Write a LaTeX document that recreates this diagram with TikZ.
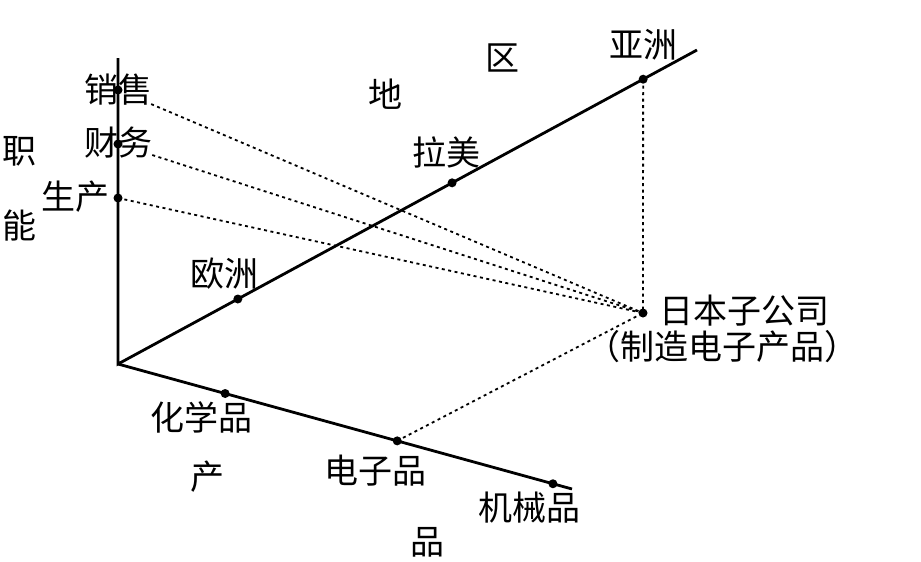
\documentclass[tikz,border=0pt]{standalone}
\usepackage{fontspec}
\newfontfamily\cjk{Noto Sans CJK SC}
\usetikzlibrary{calc}
\begin{document}
\begin{tikzpicture}[x=1pt,y=-1pt,
  axisline/.style={line width=2.8pt},
  dotline/.style={line width=1.8pt,dash pattern=on 3pt off 3.5pt},
  pt/.style={circle,fill=black,inner sep=0pt,minimum size=9pt},
  lbl/.style={inner sep=0pt,font=\cjk\fontsize{34}{38}\selectfont}]
\useasboundingbox (0,0) rectangle (921,562);
% axes
\coordinate (O) at (118,364);
\coordinate (vtop) at (118,58);
\coordinate (dend) at (697,50);
\coordinate (lend) at (572,489);
\draw[axisline] (vtop) -- (O) -- (dend);
\draw[axisline] (O) -- (lend);
% dots
\node[pt] (xs) at (118,90) {};
\node[pt] (cw) at (118,144) {};
\node[pt] (sc) at (118,198) {};
\node[pt] (oz) at ($(O)!0.207!(dend)$) {};
\node[pt] (lm) at ($(O)!0.577!(dend)$) {};
\node[pt] (yz) at ($(O)!0.907!(dend)$) {};
\node[pt] (hx) at ($(O)!0.236!(lend)$) {};
\node[pt] (dz) at ($(O)!0.615!(lend)$) {};
\node[pt] (jx) at ($(O)!0.958!(lend)$) {};
\node[pt] (jp) at (643,313) {};
% dotted connectors
\draw[dotline,shorten <=36pt] (xs.center) -- (jp.center);
\draw[dotline,shorten <=36pt] (cw.center) -- (jp.center);
\draw[dotline] (sc.center) -- (jp.center);
\draw[dotline] (yz.center) -- (jp.center);
\draw[dotline] (dz.center) -- (jp.center);
% labels
\node[lbl] (tzhi) at (19,151) {职};
\node[lbl] (tneng) at (19,226) {能};
\node[lbl] (txs) at (118,90) {销售};
\node[lbl] (tcw) at (118,143) {财务};
\node[lbl] (tsc) at (75,197) {生产};
\node[lbl] (toz) at (224,274) {欧洲};
\node[lbl] (tlm) at (446,152) {拉美};
\node[lbl] (tyz) at (643,45) {亚洲};
\node[lbl] (tdi) at (385,94) {地};
\node[lbl] (tqu) at (502,58) {区};
\node[lbl] (tjp1) at (744,311) {日本子公司};
\node[lbl] (tjp2) at (722,347) {（制造电子产品）};
\node[lbl] (thx) at (201,417) {化学品};
\node[lbl] (tchan) at (207,477) {产};
\node[lbl] (tdz) at (375,471) {电子品};
\node[lbl] (tjx) at (529,508) {机械品};
\node[lbl] (tpin) at (427,542) {品};
\end{tikzpicture}
\end{document}
